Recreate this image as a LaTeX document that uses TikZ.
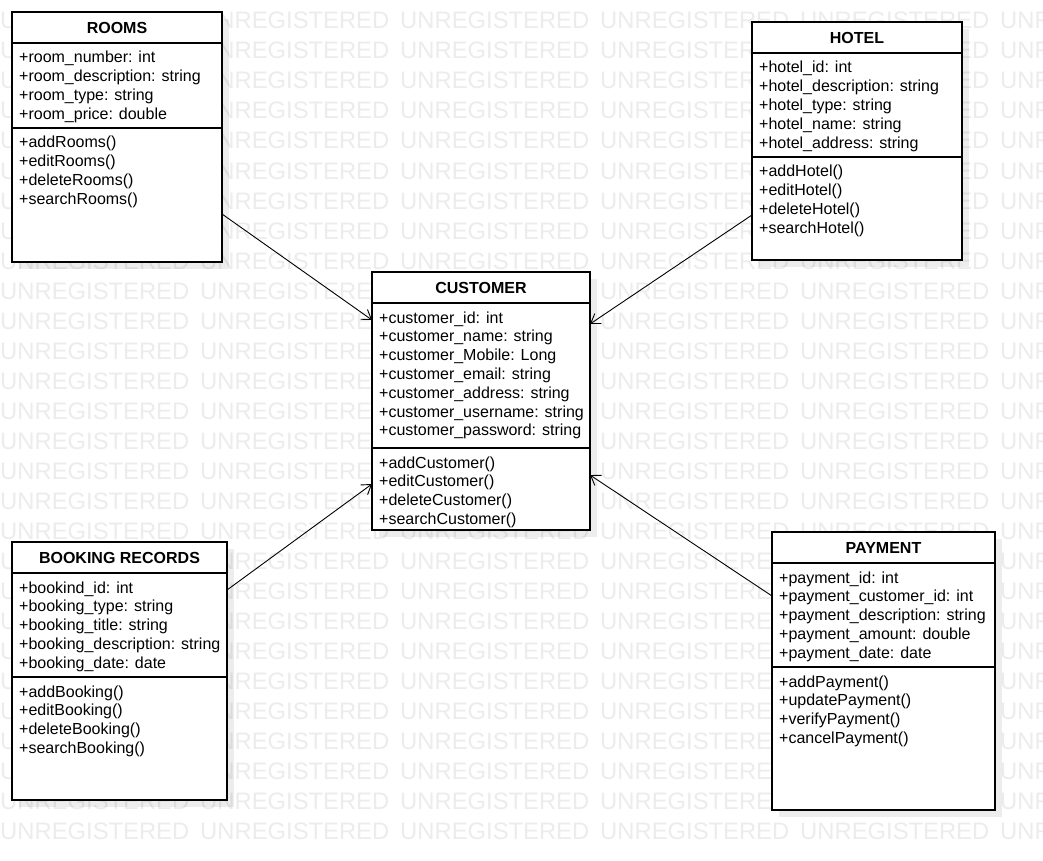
\documentclass[tikz,border=0pt]{standalone}
\usepackage{fontspec}
\setmainfont{Liberation Sans}
\usetikzlibrary{arrows.meta}
\definecolor{wm}{gray}{0.925}

\tikzset{
  umlbox/.style={draw=black, line width=1.1pt, fill=white, anchor=north west, inner sep=0pt, outer sep=0pt},
  shadowbox/.style={fill=black, fill opacity=0.07, draw=none, anchor=north west, inner sep=0pt, outer sep=0pt},
  classtitle/.style={font=\bfseries\fontsize{16}{19}\selectfont, inner sep=0pt},
  member/.style={font=\fontsize{16}{19}\selectfont, anchor=base west, inner sep=0pt},
  wmark/.style={font=\fontsize{23.8}{28}\selectfont, text=wm, anchor=base west, inner sep=0pt},
  assoc/.style={line width=0.9pt, -{Straight Barb[length=9pt,width=12pt]}},
  divider/.style={line width=1.1pt}
}

% \umlclass{name}{x}{y}{width}{height}{divider offset}{title}{attributes}{operations}
\newcommand\umlclass[9]{%
  \node[shadowbox, minimum width=#4pt, minimum height=#5pt] (#1-shadow) at (#2+7,#3+7) {};
  \node[umlbox, minimum width=#4pt, minimum height=#5pt] (#1) at (#2,#3) {};
  \draw[divider] ([yshift=-31pt]#1.north west) -- ([yshift=-31pt]#1.north east);
  \draw[divider] ([yshift=-#6pt]#1.north west) -- ([yshift=-#6pt]#1.north east);
  \node[classtitle] (#1-title) at ([yshift=-15.5pt]#1.north) {#7};
  \foreach \t [count=\i] in {#8}
    \node[member] (#1-a\i) at ([xshift=7pt, yshift={-(51+(\i-1)*18.8)*1pt}]#1.north west) {\t};
  \foreach \t [count=\i] in {#9}
    \node[member] (#1-m\i) at ([xshift=7pt, yshift={-(#6+20+(\i-1)*18.8)*1pt}]#1.north west) {\t};
}

\begin{document}
\begin{tikzpicture}[x=1pt, y=-1pt]
  \fill[white] (0,0) rectangle (1043,861);
  \useasboundingbox (0,0) rectangle (1043,861);

  % background watermark
  \begin{scope}
    \clip (0,0) rectangle (1043,861);
    \foreach \r in {0,...,27}
      \foreach \c in {0,...,5}
        \node[wmark] (wm-\r-\c) at (200*\c, 29+30*\r) {UNREGISTERED};
  \end{scope}

  \umlclass{rooms}{12}{12}{210}{250}{116}{ROOMS}
    {+room\_number: int, +room\_description: string, +room\_type: string, +room\_price: double}
    {+addRooms(), +editRooms(), +deleteRooms(), +searchRooms()}

  \umlclass{hotel}{752}{22}{210}{238}{135}{HOTEL}
    {+hotel\_id: int, +hotel\_description: string, +hotel\_type: string, +hotel\_name: string, +hotel\_address: string}
    {+addHotel(), +editHotel(), +deleteHotel(), +searchHotel()}

  \umlclass{customer}{372}{272}{218}{258}{176}{CUSTOMER}
    {+customer\_id: int, +customer\_name: string, +customer\_Mobile: Long, +customer\_email: string, +customer\_address: string, +customer\_username: string, +customer\_password: string}
    {+addCustomer(), +editCustomer(), +deleteCustomer(), +searchCustomer()}

  \umlclass{booking}{12}{542}{215}{258}{135}{BOOKING RECORDS}
    {+bookind\_id: int, +booking\_type: string, +booking\_title: string, +booking\_description: string, +booking\_date: date}
    {+addBooking(), +editBooking(), +deleteBooking(), +searchBooking()}

  \umlclass{payment}{772}{532}{223}{278}{135}{PAYMENT}
    {+payment\_id: int, +payment\_customer\_id: int, +payment\_description: string, +payment\_amount: double, +payment\_date: date}
    {+addPayment(), +updatePayment(), +verifyPayment(), +cancelPayment()}

  % associations towards the customer class
  \draw[assoc] ([yshift=-202pt]rooms.north east) -- ([yshift=-48pt]customer.north west);
  \draw[assoc] ([yshift=-193pt]hotel.north west) -- ([yshift=-52pt]customer.north east);
  \draw[assoc] ([yshift=-48pt]booking.north east) -- ([yshift=-212pt]customer.north west);
  \draw[assoc] ([yshift=-64pt]payment.north west) -- ([yshift=-203pt]customer.north east);
\end{tikzpicture}
\end{document}
